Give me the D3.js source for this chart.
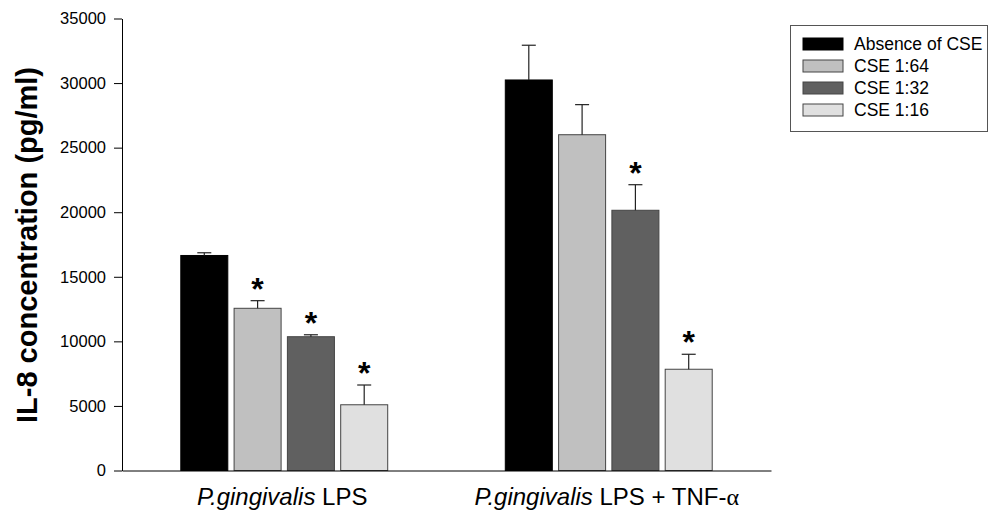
<!DOCTYPE html>
<html>
<head>
<meta charset="utf-8">
<script src="https://cdn.jsdelivr.net/npm/d3@7/dist/d3.min.js"></script>
<style>
  html, body { margin: 0; padding: 0; background: #fff; }
  svg { display: block; font-family: "Liberation Sans", Arial, Helvetica, sans-serif; }
</style>
</head>
<body>
<svg id="chart" width="991" height="512"></svg>
<script>
// ---- data ----
const groups = ["P.gingivalis LPS", "P.gingivalis LPS + TNF-α"];
const seriesNames = ["Absence of CSE", "CSE 1:64", "CSE 1:32", "CSE 1:16"];
const seriesColors = ["#000000", "#c0c0c0", "#606060", "#e0e0e0"];
const valuesLPS = [16650, 12560, 10360, 5090];
const valuesLPSTNF = [30240, 26000, 20150, 7840];
const errorsLPS = [210, 590, 150, 1530];
const errorsLPSTNF = [2690, 2330, 1980, 1160];
const starsLPS = [false, true, true, true];
const starsLPSTNF = [false, false, true, true];
const yTicks = [0, 5000, 10000, 15000, 20000, 25000, 30000, 35000];

const values = [valuesLPS, valuesLPSTNF];
const errors = [errorsLPS, errorsLPSTNF];
const stars = [starsLPS, starsLPSTNF];

const rows = [];
groups.forEach((g, gi) => {
  seriesNames.forEach((s, si) => {
    rows.push({ group: g, series: s, si, value: values[gi][si], err: errors[gi][si], star: stars[gi][si] });
  });
});

// ---- layout ----
const svg = d3.select("#chart");
const plotLeft = 122, plotRight = 771, plotBottom = 470.5, plotTop = 18.5;

const y = d3.scaleLinear().domain([0, 35000]).range([plotBottom, plotTop]);
const x0 = d3.scaleBand().domain(groups).range([plotLeft, plotRight]).paddingInner(0).paddingOuter(0);
const x1 = d3.scaleBand().domain(seriesNames).range([0, x0.bandwidth()]).paddingInner(0.118).paddingOuter(1.103);
const color = d3.scaleOrdinal().domain(seriesNames).range(seriesColors);

// bars
const g = svg.append("g");
g.selectAll("rect.bar").data(rows).join("rect")
  .attr("class", "bar")
  .attr("x", d => x0(d.group) + x1(d.series))
  .attr("y", d => y(d.value))
  .attr("width", x1.bandwidth())
  .attr("height", d => y(0) - y(d.value))
  .attr("fill", d => color(d.series))
  .attr("stroke", d => d.si === 0 ? "#000" : "#444")
  .attr("stroke-width", 1);

// error bars
const capW = 14;
const eb = g.selectAll("g.err").data(rows).join("g").attr("class", "err")
  .attr("stroke", "#222").attr("stroke-width", 1.2);
eb.append("line")
  .attr("x1", d => x0(d.group) + x1(d.series) + x1.bandwidth() / 2)
  .attr("x2", d => x0(d.group) + x1(d.series) + x1.bandwidth() / 2)
  .attr("y1", d => y(d.value))
  .attr("y2", d => y(d.value + d.err));
eb.append("line")
  .attr("x1", d => x0(d.group) + x1(d.series) + x1.bandwidth() / 2 - capW / 2)
  .attr("x2", d => x0(d.group) + x1(d.series) + x1.bandwidth() / 2 + capW / 2)
  .attr("y1", d => y(d.value + d.err))
  .attr("y2", d => y(d.value + d.err));

// stars
g.selectAll("text.star").data(rows.filter(d => d.star)).join("text")
  .attr("class", "star")
  .attr("x", d => x0(d.group) + x1(d.series) + x1.bandwidth() / 2)
  .attr("y", d => y(d.value + d.err) - 1)
  .attr("text-anchor", "middle")
  .attr("font-size", 32)
  .attr("font-weight", "bold")
  .text("*");

// y axis
const yAxis = d3.axisLeft(y).tickValues(yTicks).tickSize(8).tickPadding(8).tickSizeOuter(0).tickFormat(d3.format("d"));
const ya = svg.append("g").attr("transform", `translate(${plotLeft},0)`).call(yAxis);
ya.select(".domain").attr("stroke", "#000");
ya.selectAll(".tick line").attr("stroke", "#000");
ya.selectAll(".tick text").attr("font-size", 16.5).attr("fill", "#000")
  .attr("font-family", "'Liberation Sans', Arial, sans-serif");

// x axis line (no ticks)
const xAxis = d3.axisBottom(x0).tickSize(0).tickSizeOuter(0).tickFormat("");
const xa = svg.append("g").attr("transform", `translate(0,${plotBottom})`).call(xAxis);
xa.select(".domain").attr("stroke", "#000");

// x labels with italic species name
const xl = svg.append("g").selectAll("text").data(groups).join("text")
  .attr("x", d => x0(d) + x0.bandwidth() / 2 - 2)
  .attr("y", 505)
  .attr("text-anchor", "middle")
  .attr("font-size", 24)
  .attr("fill", "#000");
xl.each(function (d) {
  const t = d3.select(this);
  const rest = d.replace("P.gingivalis", "");
  t.append("tspan").attr("font-style", "italic").text("P.gingivalis");
  if (rest.includes("α")) {
    t.append("tspan").text(rest.replace("α", ""));
    t.append("tspan").attr("font-family", "'Liberation Serif', 'Times New Roman', serif").text("α");
  } else {
    t.append("tspan").text(rest);
  }
});

// y label
svg.append("text")
  .attr("transform", "translate(37,245) rotate(-90)")
  .attr("text-anchor", "middle")
  .attr("font-size", 29)
  .attr("font-weight", "bold")
  .attr("fill", "#000")
  .text("IL-8 concentration (pg/ml)");

// legend
const lg = svg.append("g");
lg.append("rect").attr("x", 790.5).attr("y", 25.5).attr("width", 197).attr("height", 106)
  .attr("fill", "#fff").attr("stroke", "#555").attr("stroke-width", 1);
const li = lg.selectAll("g.item").data(seriesNames).join("g").attr("class", "item")
  .attr("transform", (d, i) => `translate(803,${38 + i * 22})`);
li.append("rect").attr("width", 40).attr("height", 12)
  .attr("fill", d => color(d)).attr("stroke", (d, i) => i === 0 ? "#000" : "#444");
li.append("text").attr("x", 51).attr("y", 12).attr("font-size", 17.5).attr("fill", "#000").text(d => d);
</script>
</body>
</html>
